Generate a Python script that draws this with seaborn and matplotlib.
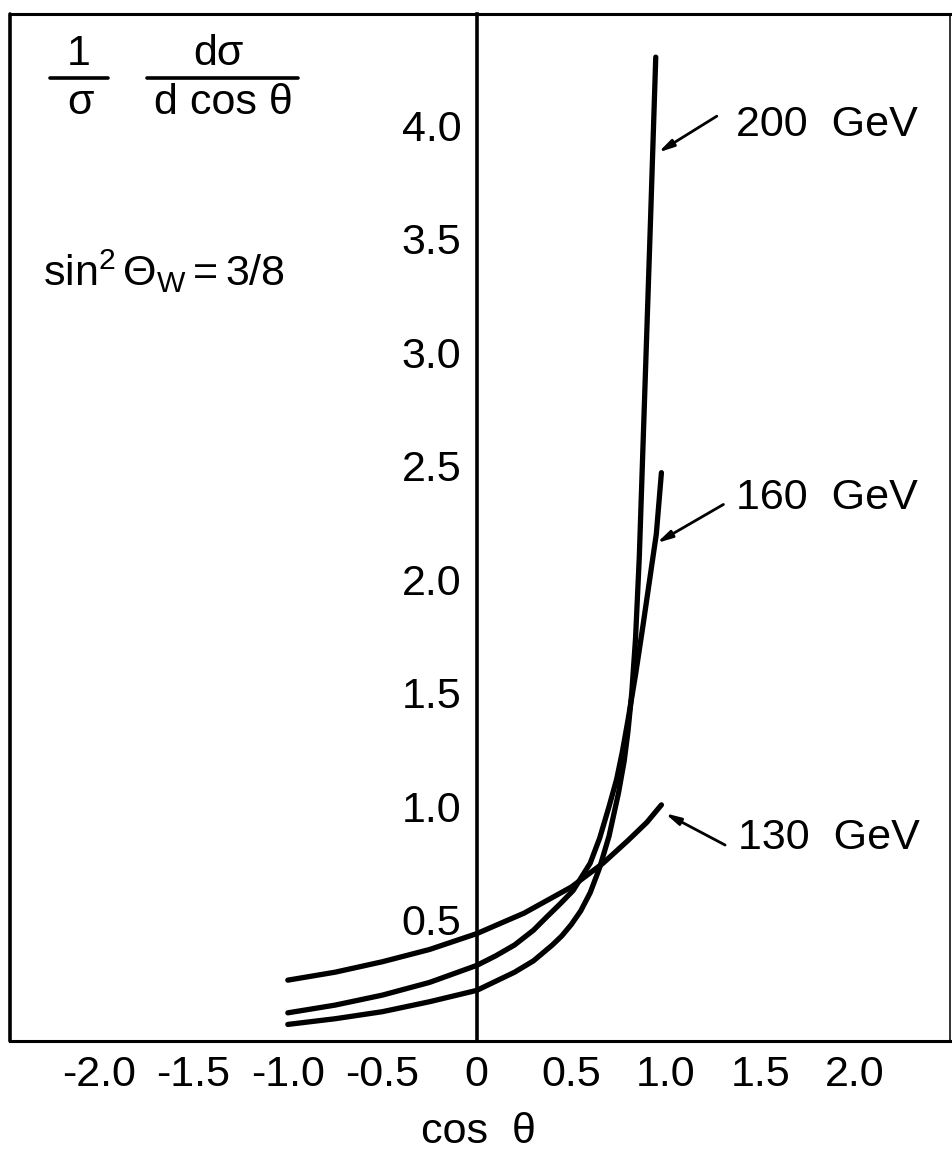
import numpy as np
import pandas as pd
import matplotlib
matplotlib.use("Agg")
import matplotlib.pyplot as plt
import seaborn as sns

# ---- data ----
cos_200 = [-1.0, -0.75, -0.5, -0.25, 0.0, 0.1, 0.2, 0.3, 0.4, 0.45, 0.5, 0.55, 0.6, 0.65, 0.7, 0.75,
           0.78, 0.8, 0.82, 0.84, 0.86, 0.88, 0.9, 0.92, 0.947]
val_200 = [0.04, 0.065, 0.096, 0.14, 0.19, 0.23, 0.27, 0.32, 0.39, 0.43, 0.48, 0.54, 0.62, 0.73, 0.87, 1.06,
           1.2, 1.33, 1.5, 1.74, 2.1, 2.6, 3.1, 3.6, 4.30]

cos_160 = [-1.0, -0.75, -0.5, -0.25, 0.0, 0.1, 0.2, 0.3, 0.366, 0.44, 0.51, 0.6, 0.65, 0.7, 0.74, 0.77, 0.8,
           0.84, 0.88, 0.915, 0.95, 0.977]
val_160 = [0.091, 0.125, 0.169, 0.225, 0.30, 0.342, 0.39, 0.455, 0.51, 0.57, 0.63, 0.75, 0.86, 1.0, 1.12, 1.24, 1.38,
           1.58, 1.8, 2.0, 2.2, 2.47]

cos_130 = [-1.0, -0.75, -0.5, -0.25, 0.0, 0.25, 0.5, 0.668, 0.8, 0.9, 0.977]
val_130 = [0.235, 0.27, 0.316, 0.37, 0.44, 0.53, 0.645, 0.75, 0.85, 0.93, 1.007]

energies = ["200 GeV", "160 GeV", "130 GeV"]

x_ticks = [-2.0, -1.5, -1.0, -0.5, 0.0, 0.5, 1.0, 1.5, 2.0]
x_tick_labels = ["-2.0", "-1.5", "-1.0", "-0.5", "0", "0.5", "1.0", "1.5", "2.0"]
y_ticks = [0.5, 1.0, 1.5, 2.0, 2.5, 3.0, 3.5, 4.0]
y_tick_labels = ["0.5", "1.0", "1.5", "2.0", "2.5", "3.0", "3.5", "4.0"]

# label anchor (text position, arrow tail, arrow tip) in data units
label_text_pos = [(1.37, 4.00), (1.37, 2.36), (1.38, 0.863)]
label_tail = [(1.27, 4.04), (1.305, 2.33), (1.314, 0.83)]
label_tip = [(0.96, 3.88), (0.952, 2.16), (0.996, 0.97)]

# ---- build table ----
df = pd.concat([
    pd.DataFrame({"cos": cos_200, "val": val_200, "energy": energies[0]}),
    pd.DataFrame({"cos": cos_160, "val": val_160, "energy": energies[1]}),
    pd.DataFrame({"cos": cos_130, "val": val_130, "energy": energies[2]}),
], ignore_index=True)

sns.set_style("white")
plt.rcParams["font.family"] = ["Liberation Sans", "DejaVu Sans"]
plt.rcParams["mathtext.fontset"] = "custom"
plt.rcParams["mathtext.rm"] = "Liberation Sans"
plt.rcParams["mathtext.it"] = "Liberation Sans"
for key in ["text.color", "axes.labelcolor", "xtick.color", "ytick.color", "axes.edgecolor"]:
    plt.rcParams[key] = "black"

W, H = 952, 1154
fig = plt.figure(figsize=(W / 100, H / 100), dpi=100)
ax = fig.add_axes([10 / W, 1 - 1041 / H, 940 / W, 1027 / H])

sns.lineplot(data=df, x="cos", y="val", hue="energy", palette=["black"] * 3,
             estimator=None, sort=False, legend=False, linewidth=3.8, ax=ax)
for ln in ax.get_lines():
    ln.set_solid_capstyle("round")
    ln.set_solid_joinstyle("round")

ax.set_xlim(-2.47, 2.504)
ax.set_ylim(-0.033, 4.49)
ax.set_xlabel("")
ax.set_ylabel("")

# spines: central y axis at cos=0, box frame around
ax.spines["left"].set_position(("data", 0))
for s in ["bottom", "top"]:
    ax.spines[s].set_linewidth(2.2)
    ax.spines[s].set_color("black")
ax.spines["left"].set_linewidth(2.6)
ax.spines["left"].set_color("black")
ax.spines["right"].set_linewidth(1.4)
ax.spines["right"].set_color("#333333")
ax.plot([0, 0], [0, 1], transform=ax.transAxes, color="black", lw=2.6, clip_on=False)

ax.set_xticks(x_ticks)
ax.set_xticklabels(x_tick_labels)
ax.set_yticks(y_ticks)
ax.set_yticklabels(y_tick_labels)
ax.tick_params(axis="x", direction="in", length=17, width=1.8, pad=10, labelsize=31, colors="black")
ax.tick_params(axis="y", direction="in", length=14, width=1.8, pad=11, labelsize=31, colors="black")
ax.grid(False)

# energy labels with arrows
for name, tp, tail, tip in zip(energies, label_text_pos, label_tail, label_tip):
    ax.text(tp[0], tp[1], name.replace(" ", "  "), fontsize=31, ha="left", va="center")
    ax.annotate("", xy=tip, xytext=tail,
                arrowprops=dict(arrowstyle="-|>,head_length=0.9,head_width=0.22",
                                lw=2.0, color="black", shrinkA=0, shrinkB=0))

# y-quantity label (top-left, written as two fractions)
tf = ax.transAxes
fs = 31
ax.text(0.0735, 0.950, "1", transform=tf, fontsize=fs, ha="center", va="baseline")
ax.plot([0.0426, 0.104], [0.938, 0.938], transform=tf, color="black", lw=2.6)
ax.text(0.0755, 0.903, "σ", transform=tf, fontsize=fs, ha="center", va="baseline")
ax.text(0.222, 0.950, "dσ", transform=tf, fontsize=fs, ha="center", va="baseline")
ax.plot([0.1457, 0.3064], [0.938, 0.938], transform=tf, color="black", lw=2.6)
ax.text(0.227, 0.903, "d cos θ", transform=tf, fontsize=fs, ha="center", va="baseline")
ax.text(0.035, 0.735, r"$\mathregular{sin^2\,Θ_W = 3/8}$", transform=tf, fontsize=fs,
        ha="left", va="baseline")

# x-axis title
fig.text(478 / W, 1 - 1132 / H, "cos  θ", fontsize=31, ha="center", va="center")

fig.savefig("out.png", dpi=100)
